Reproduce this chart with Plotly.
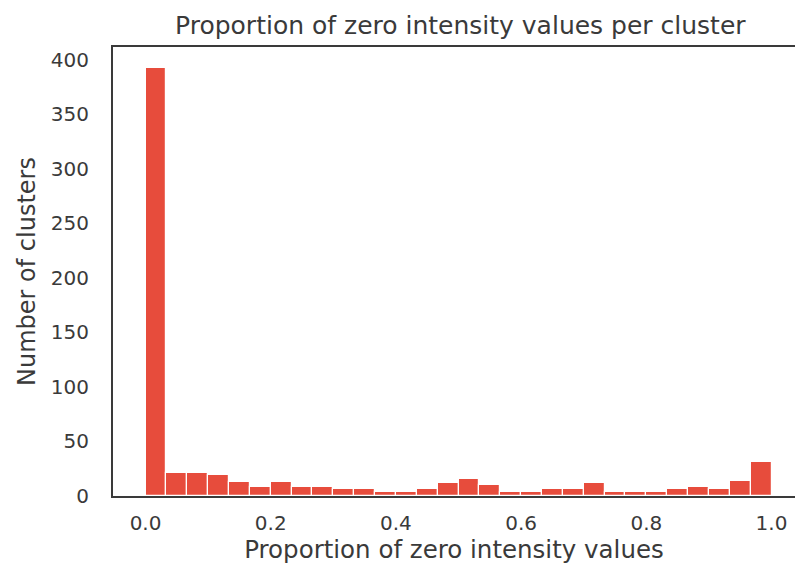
import numpy as np
import plotly.graph_objects as go

# Histogram data (30 equal bins over [0, 1])
bin_start = 0.0
bin_end = 1.0
n_bins = 30
counts = [392, 21, 21, 19, 13, 8, 13, 8, 8, 6,
          6, 4, 4, 6, 12, 16, 10, 4, 4, 6,
          6, 12, 4, 4, 4, 6, 8, 6, 14, 31]
x_tick_vals = [0.0, 0.2, 0.4, 0.6, 0.8, 1.0]
y_tick_vals = [0, 50, 100, 150, 200, 250, 300, 350, 400]

edges = np.linspace(bin_start, bin_end, n_bins + 1)
centers = (edges[:-1] + edges[1:]) / 2
width = edges[1] - edges[0]

FONT = "DejaVu Sans"
TXT = "#3a3a3a"

fig = go.Figure(go.Bar(
    x=centers, y=counts, width=width,
    marker=dict(color="#e74c3c", line=dict(color="white", width=1.2)),
))

fig.update_layout(
    width=795, height=572,
    margin=dict(l=113, r=0, t=47, b=76),
    paper_bgcolor="white", plot_bgcolor="white",
    font=dict(family=FONT, size=20, color=TXT),
    title=dict(text="Proportion of zero intensity values per cluster",
               x=0.579, xanchor="center", xref="container", y=0.955, yanchor="middle",
               font=dict(size=25, color=TXT)),
    showlegend=False,
    bargap=0,
)
fig.update_xaxes(
    range=[-0.052, 1.0375],
    tickvals=x_tick_vals, tickformat=".1f",
    showgrid=False, zeroline=False,
    showline=True, linecolor="#3a3a3a", linewidth=2, mirror=True,
    ticks="", ticklabelstandoff=8,
    title=dict(text="Proportion of zero intensity values", font=dict(size=24.5), standoff=6),
)
fig.update_yaxes(
    range=[0, 411.6],
    tickvals=y_tick_vals,
    showgrid=False, zeroline=False,
    showline=True, linecolor="#3a3a3a", linewidth=2, mirror=False,
    ticks="", ticklabelstandoff=18,
    title=dict(text="Number of clusters", font=dict(size=24), standoff=8),
)

fig.write_html("out.html")
